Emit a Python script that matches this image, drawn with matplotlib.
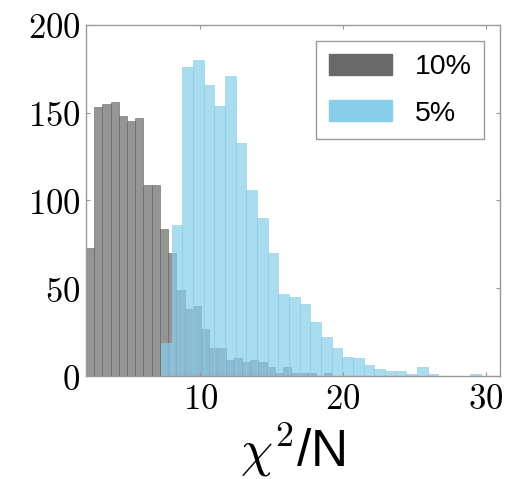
import numpy as np
import matplotlib
matplotlib.use("Agg")
import matplotlib.pyplot as plt
from matplotlib.patches import Patch
from matplotlib.ticker import FuncFormatter

plt.rcParams["mathtext.fontset"] = "cm"

# Histogram counts per bin (30 equal-width bins for each threshold)
gray_range = (2.0, 19.26)
gray_counts = [73, 153, 155, 156, 148, 145, 147, 109, 109, 84,
               70, 49, 38, 40, 27, 16, 16, 9, 10, 8,
               9, 8, 5, 2, 5, 2, 2, 2, 0, 2]

blue_range = (7.26, 29.68)
blue_counts = [19, 86, 176, 180, 166, 154, 171, 133, 106, 90,
               70, 47, 45, 41, 31, 22, 16, 11, 10, 6,
               4, 3, 3, 1, 5, 1, 0, 0, 0, 1]

labels = ["10%", "5%"]
colors = ["dimgray", "skyblue"]

x_ticks = [10, 20, 30]
y_ticks = [0, 50, 100, 150, 200]

fig = plt.figure(figsize=(5.2, 4.79), dpi=100)
ax = fig.add_axes([0.1654, 0.215, 0.7961, 0.733])

for rng, counts, color in [(gray_range, gray_counts, colors[0]),
                           (blue_range, blue_counts, colors[1])]:
    edges = np.linspace(rng[0], rng[1], len(counts) + 1)
    ax.hist(edges[:-1], bins=edges, weights=counts, color=color,
            alpha=0.7, edgecolor=color, linewidth=0.6)

ax.set_xlim(2.0, 31.0)
ax.set_ylim(0, 200)
ax.set_xticks(x_ticks)
ax.set_yticks(y_ticks)
fmt = FuncFormatter(lambda v, p: r"$%d$" % v)
ax.xaxis.set_major_formatter(fmt)
ax.yaxis.set_major_formatter(fmt)
ax.tick_params(axis="both", which="major", direction="in", length=3,
               width=0.8, color="#999999", labelsize=25, pad=4,
               top=True, right=True)

for sp in ax.spines.values():
    sp.set_color("#999999")
    sp.set_linewidth(1.0)

ax.set_xlabel(r"$\chi^2$/N", fontsize=37, family="Liberation Sans", labelpad=4)

handles = [Patch(facecolor=c, edgecolor=c) for c in colors]
leg = ax.legend(handles, labels, loc="upper right",
                bbox_to_anchor=(0.962, 0.955), borderaxespad=0,
                fancybox=False, edgecolor="#999999", framealpha=1,
                prop={"family": "Liberation Sans", "size": 20.5},
                handlelength=2.2, handleheight=0.78, handletextpad=0.8,
                borderpad=0.45, labelspacing=0.7)
leg.get_frame().set_linewidth(1.0)

fig.savefig("out.png", dpi=100)
